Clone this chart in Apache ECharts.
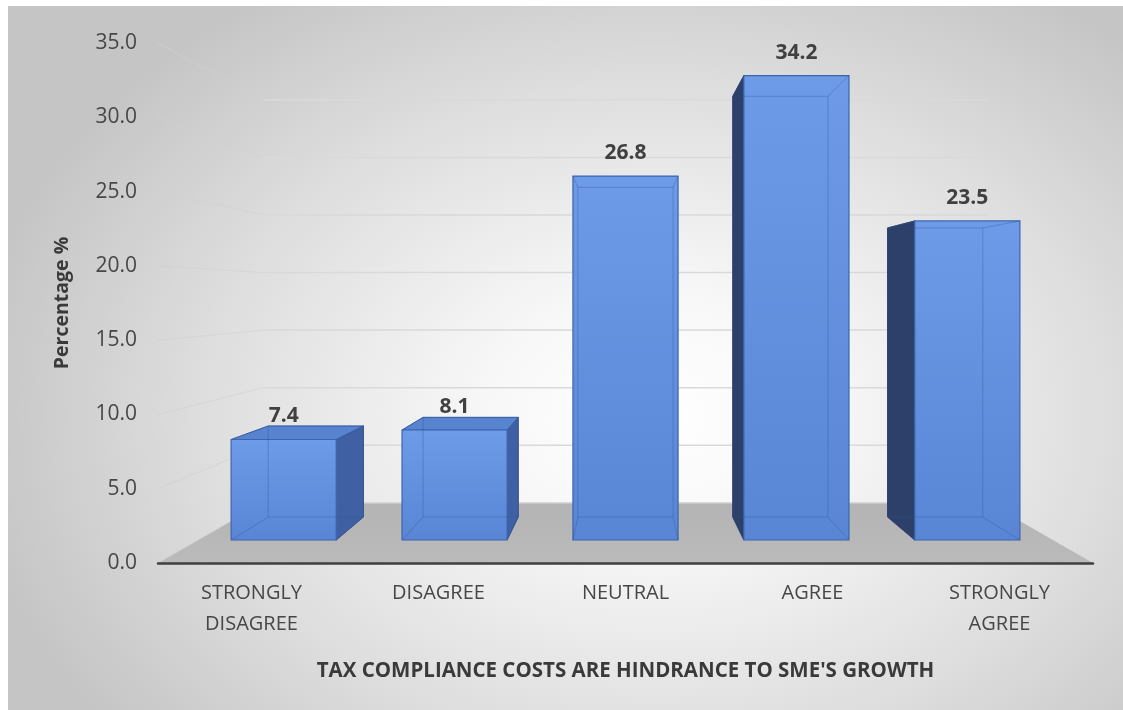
<!DOCTYPE html>
<html>
<head>
<meta charset="utf-8">
<script src="https://cdn.jsdelivr.net/npm/echarts@6/dist/echarts.min.js"></script>
<style>
  html, body { margin: 0; padding: 0; background: #ffffff; }
  #chart {
    position: absolute; left: 8px; top: 6px; width: 1115px; height: 704px;
    background: radial-gradient(ellipse 62% 72% at 58% 58%, #ffffff 0%, #f7f7f7 25%, #dedede 65%, #c5c5c5 100%);
  }
</style>
</head>
<body>
<div id="chart"></div>
<script>
// Survey responses: share of respondents per answer
const categories = ['STRONGLY\nDISAGREE', 'DISAGREE', 'NEUTRAL', 'AGREE', 'STRONGLY\nAGREE'];
const percentages = [7.4, 8.1, 26.8, 34.2, 23.5];
const yTicks = [0, 5, 10, 15, 20, 25, 30, 35];
const xTitle = "TAX COMPLIANCE COSTS ARE HINDRANCE TO SME'S GROWTH";
const yTitle = 'Percentage %';

// Simple one-point perspective: everything shrinks toward an eye point
// placed at the horizontal centre of the plot and at the height of EYE_VALUE.
const EYE_VALUE = 18;
const DEPTH = { floorFront: 1, barFront: 0.914, barBack: 0.828, wall: 0.775 };
const BAR_RATIO = 0.615;

function eyePoint(api, cs) {
  return [cs.x + cs.width / 2, api.coord([0, EYE_VALUE])[1]];
}
function project(p, eye, s) {
  return [eye[0] + s * (p[0] - eye[0]), eye[1] + s * (p[1] - eye[1])];
}

// Back wall gridlines: slanted on the left side wall, then flat across the back
function renderGrid(params, api) {
  const cs = params.coordSys;
  const eye = eyePoint(api, cs);
  const v = api.value(0);
  const y = api.coord([0, v])[1];
  const a = [cs.x, y];
  const b = project(a, eye, DEPTH.wall);
  const c = project([cs.x + cs.width, y], eye, DEPTH.wall);
  return {
    type: 'group',
    children: [
      { type: 'line', shape: { x1: a[0], y1: a[1], x2: b[0], y2: b[1] },
        style: { stroke: '#d0d0d0', lineWidth: 1, lineDash: [2, 1] } },
      { type: 'line', shape: { x1: b[0], y1: b[1], x2: c[0], y2: c[1] },
        style: { stroke: '#d9d9d9', lineWidth: 1.5 } }
    ]
  };
}

// Grey floor plane
function renderFloor(params, api) {
  const cs = params.coordSys;
  const eye = eyePoint(api, cs);
  const y0 = api.coord([0, 0])[1];
  const l = [cs.x, y0], r = [cs.x + cs.width, y0];
  return {
    type: 'polygon',
    shape: { points: [l, r, project(r, eye, DEPTH.wall), project(l, eye, DEPTH.wall)] },
    style: {
      fill: { type: 'linear', x: 0, y: 0, x2: 0, y2: 1,
        colorStops: [{ offset: 0, color: '#b4b4b4' }, { offset: 1, color: '#bababa' }] }
    }
  };
}

// 3D box bars
function renderBar(params, api) {
  const cs = params.coordSys;
  const eye = eyePoint(api, cs);
  const idx = api.value(0);
  const val = api.value(1);
  const cx = api.coord([idx, 0])[0];
  const y0 = api.coord([idx, 0])[1];
  const yt = api.coord([idx, val])[1];
  const w = api.size([1, 0])[0] * BAR_RATIO;
  const rect = [[cx - w / 2, yt], [cx + w / 2, yt], [cx + w / 2, y0], [cx - w / 2, y0]];
  const F = rect.map(p => project(p, eye, DEPTH.barFront));
  const B = rect.map(p => project(p, eye, DEPTH.barBack));
  const kids = [];
  const fc = project([cx, yt], eye, DEPTH.barFront);

  if (cx < eye[0] - 1) {
    kids.push({ type: 'polygon', shape: { points: [F[1], B[1], B[2], F[2]] },
      style: { fill: '#3f61a3', stroke: '#34558f', lineWidth: 1 } });
  } else if (cx > eye[0] + 1) {
    kids.push({ type: 'polygon', shape: { points: [F[0], B[0], B[3], F[3]] },
      style: { fill: '#2d4069', stroke: '#2a3b60', lineWidth: 1 } });
  }
  if (F[0][1] > eye[1]) {
    kids.push({ type: 'polygon', shape: { points: [F[0], F[1], B[1], B[0]] },
      style: { fill: '#5883cf', stroke: '#3b62a8', lineWidth: 1 } });
  }
  kids.push({ type: 'polygon', shape: { points: F },
    style: {
      fill: { type: 'linear', x: 0, y: 0, x2: 0, y2: 1,
        colorStops: [{ offset: 0, color: '#6e9be7' }, { offset: 1, color: '#5886d5' }] },
      stroke: '#3c64ad', lineWidth: 1.2
    } });
  // hidden edges seen through the slightly translucent box
  const hidden = 'rgba(45,80,150,0.35)';
  kids.push({ type: 'polyline', shape: { points: [B[0], B[1], B[2], B[3], B[0]] },
    style: { stroke: hidden, lineWidth: 1, fill: null } });
  for (let k = 0; k < 4; k++) {
    kids.push({ type: 'line', shape: { x1: F[k][0], y1: F[k][1], x2: B[k][0], y2: B[k][1] },
      style: { stroke: hidden, lineWidth: 1 } });
  }
  kids.push({ type: 'text', x: fc[0], y: fc[1] - 23,
    style: { text: val.toFixed(1), fill: '#404040', font: 'bold 21px "Open Sans"',
      align: 'center', verticalAlign: 'middle' } });
  return { type: 'group', children: kids };
}

const chart = echarts.init(document.getElementById('chart'), null, { renderer: 'canvas' });
chart.setOption({
  animation: false,
  textStyle: { fontFamily: '"Open Sans", sans-serif' },
  grid: { left: 150, right: 30, top: 37, bottom: 147, containLabel: false },
  xAxis: {
    type: 'category',
    data: categories,
    axisLine: { lineStyle: { color: '#3f3f3f', width: 2.5 } },
    axisTick: { show: false },
    axisLabel: { color: '#474747', fontSize: 20, lineHeight: 31, margin: 15, interval: 0 },
    name: xTitle,
    nameLocation: 'middle',
    nameGap: 98,
    nameTextStyle: { color: '#3a3a3a', fontSize: 20.5, fontWeight: 'bold' },
    z: 5
  },
  yAxis: {
    type: 'value',
    min: 0, max: 35, interval: 5,
    axisLine: { show: false },
    axisTick: { show: false },
    splitLine: { show: false },
    axisLabel: { color: '#474747', fontSize: 21, margin: 21, formatter: v => v.toFixed(1) },
    name: yTitle,
    nameLocation: 'middle',
    nameGap: 86,
    nameTextStyle: { color: '#3a3a3a', fontSize: 19.5, fontWeight: 'bold' }
  },
  series: [
    { type: 'custom', renderItem: renderFloor, data: [[0]], z: 1, silent: true },
    { type: 'custom', renderItem: renderGrid, data: yTicks.map(v => [v]), z: 2, silent: true },
    { type: 'custom', renderItem: renderBar, data: percentages.map((v, i) => [i, v]), z: 3,
      encode: { x: 0, y: 1 } }
  ]
});
</script>
</body>
</html>
